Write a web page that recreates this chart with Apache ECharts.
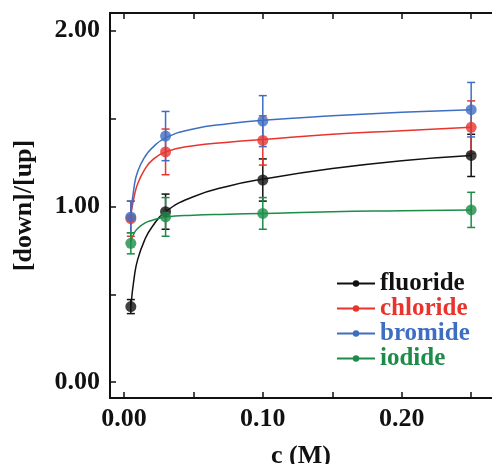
<!DOCTYPE html>
<html>
<head>
<meta charset="utf-8">
<script src="https://cdn.jsdelivr.net/npm/echarts@6/dist/echarts.min.js"></script>
<style>
  html, body { margin: 0; padding: 0; background: #fff; }
  #chart { width: 492px; height: 464px; }
</style>
</head>
<body>
<div id="chart"></div>
<script>
// measured concentrations
var concentrations = [0.005, 0.03, 0.1, 0.25]

// data points and error bars
var fluorideY = [0.43, 0.97, 1.15, 1.29]
var fluorideErr = [0.04, 0.10, 0.12, 0.12]
var chlorideY = [0.93, 1.31, 1.375, 1.45]
var chlorideErr = [0.10, 0.13, 0.14, 0.15]
var bromideY = [0.94, 1.40, 1.485, 1.55]
var bromideErr = [0.09, 0.14, 0.145, 0.155]
var iodideY = [0.79, 0.94, 0.96, 0.98]
var iodideErr = [0.06, 0.11, 0.09, 0.10]

// fitted curves
var curveX = [0.005, 0.0075, 0.01, 0.015, 0.02, 0.03, 0.05, 0.075, 0.1, 0.15, 0.2, 0.25]
var fluorideFit = [0.43, 0.60, 0.70, 0.81, 0.88, 0.97, 1.055, 1.115, 1.155, 1.215, 1.26, 1.29]
var chlorideFit = [0.95, 1.06, 1.13, 1.21, 1.26, 1.31, 1.345, 1.365, 1.38, 1.41, 1.43, 1.45]
var bromideFit = [0.95, 1.12, 1.20, 1.28, 1.33, 1.39, 1.44, 1.47, 1.49, 1.515, 1.535, 1.55]
var iodideFit = [0.80, 0.85, 0.875, 0.905, 0.92, 0.94, 0.95, 0.955, 0.96, 0.97, 0.975, 0.98]

var xTicks = [0, 0.05, 0.1, 0.15, 0.2, 0.25]
var xLabels = [0, 0.1, 0.2]
var yTicks = [0, 0.5, 1, 1.5, 2]
var yLabels = [0, 1, 2]

var font = "'Liberation Serif', 'Times New Roman', serif"

var groups = [
  { name: 'fluoride', color: '#111111', y: fluorideY, err: fluorideErr, fit: fluorideFit },
  { name: 'chloride', color: '#e8342c', y: chlorideY, err: chlorideErr, fit: chlorideFit },
  { name: 'bromide', color: '#3e6ec2', y: bromideY, err: bromideErr, fit: bromideFit },
  { name: 'iodide', color: '#1d8c48', y: iodideY, err: iodideErr, fit: iodideFit }
]

function zip(xs, ys) {
  return xs.map(function (x, i) { return [x, ys[i]] })
}

function errorBars(color) {
  return function (params, api) {
    var x = api.value(0)
    var y = api.value(1)
    var e = api.value(2)
    var top = api.coord([x, y + e])
    var bot = api.coord([x, y - e])
    var w = 4
    var style = { stroke: color, lineWidth: 1.5 }
    return {
      type: 'group',
      children: [
        { type: 'line', shape: { x1: top[0], y1: top[1], x2: bot[0], y2: bot[1] }, style: style },
        { type: 'line', shape: { x1: top[0] - w, y1: top[1], x2: top[0] + w, y2: top[1] }, style: style },
        { type: 'line', shape: { x1: bot[0] - w, y1: bot[1], x2: bot[0] + w, y2: bot[1] }, style: style }
      ]
    }
  }
}

var series = []
groups.forEach(function (g) {
  series.push({
    name: g.name,
    type: 'line',
    smooth: true,
    symbol: 'circle',
    symbolSize: 8,
    showSymbol: false,
    data: zip(curveX, g.fit),
    lineStyle: { color: g.color, width: 1.5 },
    itemStyle: { color: g.color },
    z: 2
  })
  series.push({
    type: 'custom',
    renderItem: errorBars(g.color),
    data: concentrations.map(function (x, i) { return [x, g.y[i], g.err[i]] }),
    z: 3
  })
  series.push({
    type: 'scatter',
    symbol: 'circle',
    symbolSize: 11,
    data: zip(concentrations, g.y),
    itemStyle: { color: g.color },
    z: 4
  })
})

var axisLine = { show: true, onZero: false, lineStyle: { color: '#111', width: 2 } }
var tickLine = { color: '#111', width: 1.5 }
var labelStyle = { fontFamily: font, fontWeight: 'bold', fontSize: 26, color: '#111' }

var chart = echarts.init(document.getElementById('chart'))
chart.setOption({
  backgroundColor: '#fff',
  animation: false,
  grid: { left: 110, top: 13, right: 0, bottom: 66, containLabel: false, outerBoundsMode: 'none' },
  legend: {
    orient: 'vertical',
    left: 331,
    top: 266,
    itemWidth: 38,
    itemHeight: 8,
    itemGap: 0,
    data: groups.map(function (g) {
      return { name: g.name, textStyle: { color: g.color } }
    }),
    textStyle: { fontFamily: font, fontWeight: 'bold', fontSize: 25, lineHeight: 25 }
  },
  xAxis: [
    {
      type: 'value',
      min: -0.01,
      max: 0.265,
      name: 'c (M)',
      nameLocation: 'middle',
      nameGap: 45,
      nameTextStyle: labelStyle,
      axisLine: axisLine,
      splitLine: { show: false },
      axisTick: { show: true, inside: true, length: 6, customValues: xTicks, lineStyle: tickLine },
      axisLabel: {
        customValues: xLabels,
        margin: 8,
        fontFamily: font, fontWeight: 'bold', fontSize: 26, color: '#111',
        formatter: function (v) { return v.toFixed(2) }
      }
    },
    {
      type: 'value',
      position: 'top',
      min: -0.01,
      max: 0.265,
      axisLine: axisLine,
      splitLine: { show: false },
      axisTick: { show: true, inside: true, length: 6, customValues: xTicks, lineStyle: tickLine },
      axisLabel: { show: false }
    }
  ],
  yAxis: {
    type: 'value',
    min: -0.09,
    max: 2.1,
    name: '[down]/[up]',
    nameLocation: 'middle',
    nameGap: 73,
    nameTextStyle: labelStyle,
    axisLine: axisLine,
    splitLine: { show: false },
    axisTick: { show: true, inside: true, length: 6, customValues: yTicks, lineStyle: tickLine },
    axisLabel: {
      customValues: yLabels,
      margin: 10,
      fontFamily: font, fontWeight: 'bold', fontSize: 26, color: '#111',
      formatter: function (v) { return v.toFixed(2) }
    }
  },
  series: series
})
</script>
</body>
</html>
